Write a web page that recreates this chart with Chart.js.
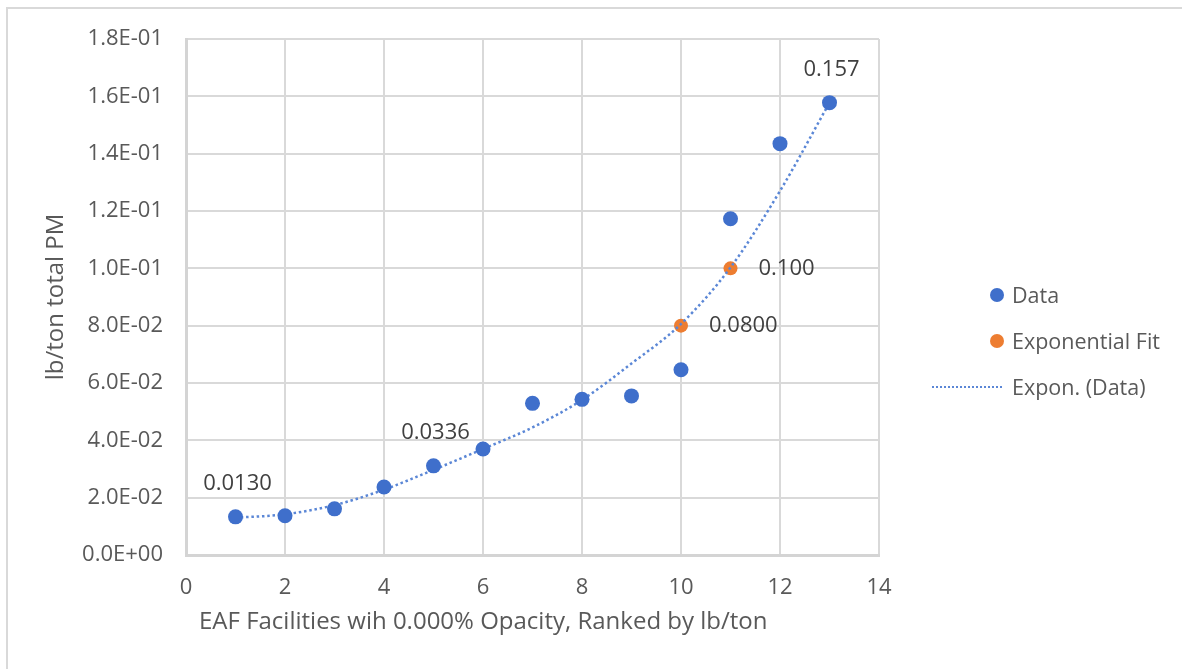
<!DOCTYPE html>
<html>
<head>
<meta charset="utf-8">
<script src="https://cdn.jsdelivr.net/npm/chart.js@4.4.1/dist/chart.umd.min.js"></script>
<style>
  html, body { margin: 0; padding: 0; background: #ffffff; overflow: hidden; }
  #wrap { position: relative; width: 1182px; height: 669px; overflow: hidden; background: #fff; }
  #frame { position: absolute; left: 6px; top: 7px; width: 2000px; height: 2000px; border: 2.5px solid #d9d9d9; box-sizing: border-box; }
  #c { position: absolute; left: 0; top: 0; }
  .txt { position: absolute; font-family: "Open Sans", sans-serif; font-size: 21.5px; color: #595959; white-space: nowrap; line-height: 1; }
  .dot { position: absolute; width: 14px; height: 14px; border-radius: 50%; }
  #xtitle { left: 199px; top: 608px; font-size: 24px; }
</style>
</head>
<body>
<div id="wrap">
  <div id="frame"></div>
  <canvas id="c" width="1182" height="669"></canvas>
  <div class="txt" id="xtitle">EAF Facilities wih 0.000% Opacity, Ranked by lb/ton</div>
  <div class="dot" style="left:990px;top:288px;background:#3F6FCB"></div>
  <div class="txt" style="left:1012px;top:283.5px">Data</div>
  <div class="dot" style="left:990px;top:334px;background:#ED7D31"></div>
  <div class="txt" style="left:1012px;top:329.5px">Exponential Fit</div>
  <div style="position:absolute;left:932px;top:386px;width:70px;height:0;border-top:2.5px dotted #5B87D6"></div>
  <div class="txt" style="left:1012px;top:375.5px">Expon. (Data)</div>
</div>
<script>
// ---- data ----
const rankX = [1, 2, 3, 4, 5, 6, 7, 8, 9, 10, 11, 12, 13];
const dataY = [0.0133, 0.0137, 0.0161, 0.0237, 0.0311, 0.0370, 0.0529, 0.0543, 0.0555, 0.0646, 0.1173, 0.1435, 0.1578];
const fitX = [10, 11];
const fitY = [0.0800, 0.1000];
const trendY = [0.0130, 0.0142, 0.0174, 0.0228, 0.0297, 0.0370, 0.0445, 0.0541, 0.0668, 0.0806, 0.1003, 0.1270, 0.1578];
const dataLabelIndex = [0, 4, 12];
const dataLabelText = ['0.0130', '0.0336', '0.157'];
const fitLabelText = ['0.0800', '0.100'];
const xTickValues = [0, 2, 4, 6, 8, 10, 12, 14];
const yTickLabels = ['0.0E+00', '2.0E-02', '4.0E-02', '6.0E-02', '8.0E-02', '1.0E-01', '1.2E-01', '1.4E-01', '1.6E-01', '1.8E-01'];
const seriesNames = ['Data', 'Exponential Fit', 'Expon. (Data)'];

const pts = (xs, ys) => xs.map((x, i) => ({ x: x, y: ys[i] }));

const FONT = "'Open Sans', sans-serif";

const labelPlugin = {
  id: 'pointLabels',
  afterDatasetsDraw(chart) {
    const ctx = chart.ctx;
    ctx.save();
    ctx.font = '22px ' + FONT;
    ctx.fillStyle = '#404040';
    ctx.textBaseline = 'middle';
    const dMeta = chart.getDatasetMeta(0);
    ctx.textAlign = 'center';
    dataLabelIndex.forEach((idx, k) => {
      const el = dMeta.data[idx];
      ctx.fillText(dataLabelText[k], el.x + 2, el.y - 33);
    });
    const fMeta = chart.getDatasetMeta(2);
    ctx.textAlign = 'left';
    fitLabelText.forEach((t, k) => {
      const el = fMeta.data[k];
      ctx.fillText(t, el.x + 28, el.y);
    });
    ctx.restore();
  }
};

new Chart(document.getElementById('c'), {
  type: 'scatter',
  data: {
    datasets: [
      {
        label: seriesNames[0],
        data: pts(rankX, dataY),
        backgroundColor: '#3F6FCB',
        borderColor: '#3F6FCB',
        pointRadius: 7.5,
        pointHoverRadius: 7.5,
        borderWidth: 0
      },
      {
        type: 'line',
        label: seriesNames[2],
        data: pts(rankX, trendY),
        borderColor: '#5B87D6',
        borderWidth: 2.5,
        borderDash: [2.5, 2.8],
        pointRadius: 0,
        showLine: true,
        fill: false,
        tension: 0.4,
        cubicInterpolationMode: 'monotone'
      },
      {
        label: seriesNames[1],
        data: pts(fitX, fitY),
        backgroundColor: '#ED7D31',
        borderColor: '#ED7D31',
        pointRadius: 7,
        pointHoverRadius: 7,
        borderWidth: 0
      }
    ]
  },
  options: {
    responsive: false,
    animation: false,
    layout: { padding: { left: 0, top: 39, right: 303, bottom: 0 } },
    plugins: { legend: { display: false }, tooltip: { enabled: false } },
    scales: {
      x: {
        type: 'linear',
        min: 0, max: 14,
        afterBuildTicks: (s) => { s.ticks = xTickValues.map(v => ({ value: v })); },
        afterFit: (s) => { s.height = 114; },
        grid: { color: '#d9d9d9', lineWidth: 2, drawTicks: false },
        border: { color: '#d4d4d4', width: 3 },
        ticks: { color: '#595959', font: { family: FONT, size: 22 }, padding: 20 }
      },
      y: {
        type: 'linear',
        min: 0, max: 0.18,
        afterBuildTicks: (s) => { s.ticks = yTickLabels.map((t, i) => ({ value: i * 0.02 })); },
        afterFit: (s) => { s.width = 186; },
        grid: { color: '#d9d9d9', lineWidth: 2, drawTicks: false },
        border: { color: '#d4d4d4', width: 3 },
        ticks: {
          color: '#595959', font: { family: FONT, size: 22 }, padding: 23,
          callback: (v) => yTickLabels[Math.round(v / 0.02)]
        },
        title: {
          display: true, text: 'lb/ton total PM', color: '#595959',
          font: { family: FONT, size: 24 }, padding: { top: 42, bottom: 0 }
        }
      }
    }
  },
  plugins: [labelPlugin]
});
</script>
</body>
</html>
